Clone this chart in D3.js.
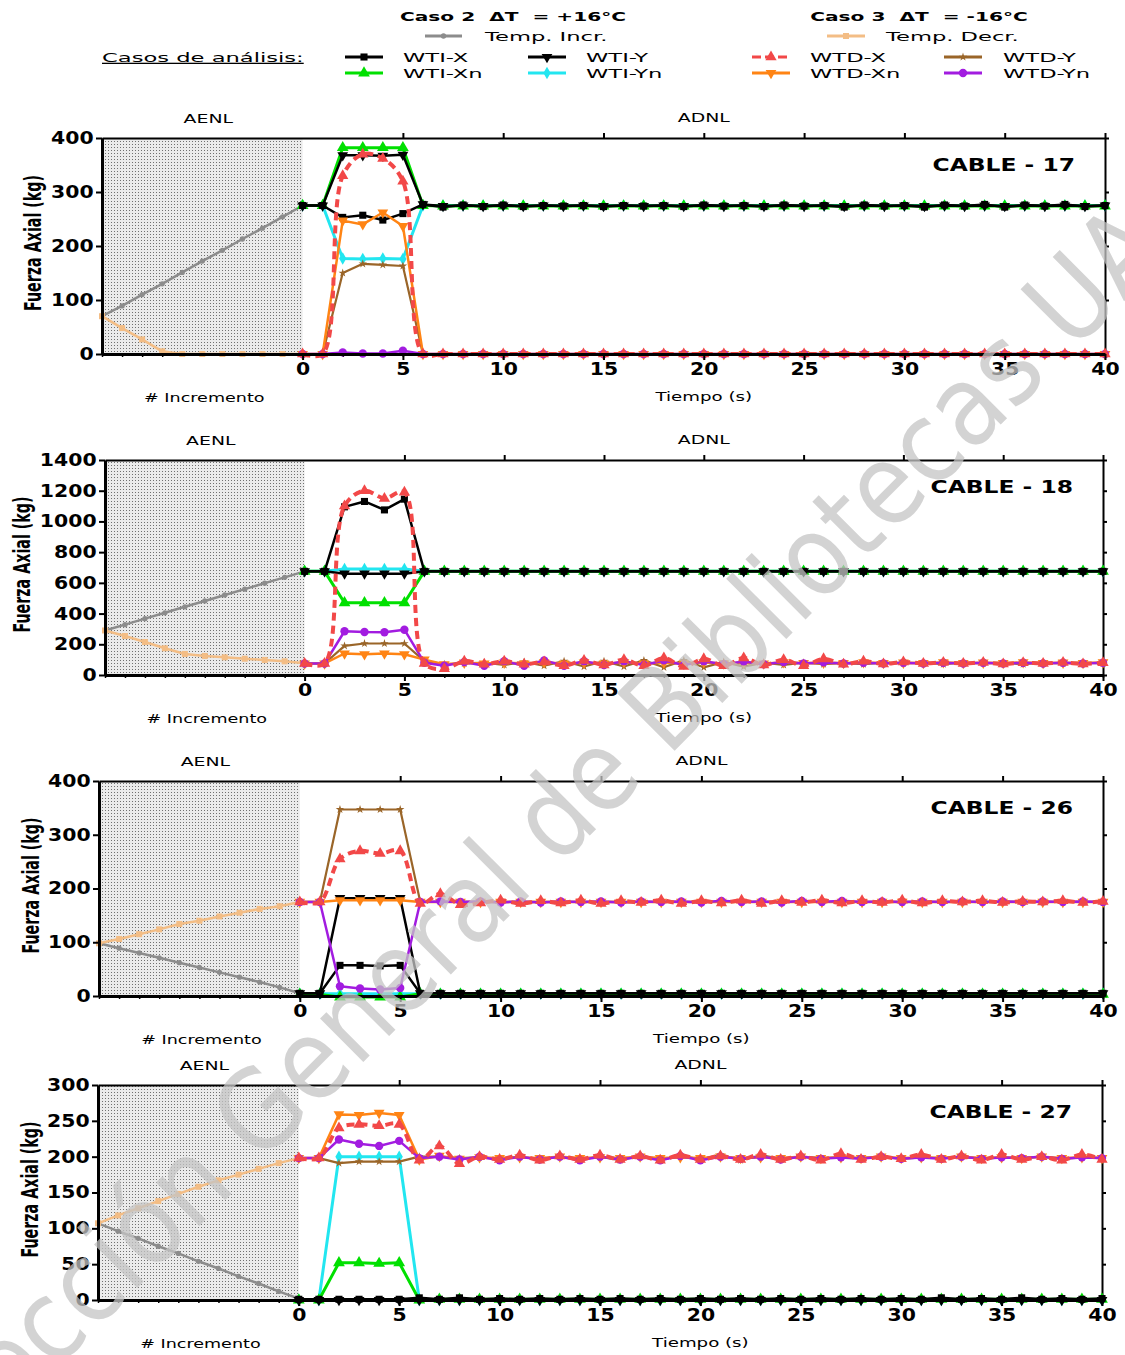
<!DOCTYPE html>
<html>
<head>
<meta charset="utf-8">
<style>
html, body { margin: 0; padding: 0; background: #fff; }
text { font-family: "DejaVu Sans", Verdana, sans-serif; }
</style>
<script src="https://cdn.jsdelivr.net/npm/d3@7"></script>
</head>
<body>
<script>
// ---------- datos ----------
var casos = ["WTI-X", "WTI-Y", "WTI-Xn", "WTI-Yn", "WTD-X", "WTD-Y", "WTD-Xn", "WTD-Yn"];
var tiempo = d3.range(0, 41);        // Tiempo (s)
var incremento = d3.range(-10, 1);   // # Incremento (zona AENL)
var ticksTiempo = [0, 5, 10, 15, 20, 25, 30, 35, 40];

// CABLE - 17
var yTicks17 = [0, 100, 200, 300, 400];
var incr17 = [70, 89, 110, 130, 151, 172, 192, 213, 233, 254, 275];
var decr17 = [70, 48, 27, 5, 0, 0, 0, 0, 0, 0, 0];
var wtiX17 = [275,275,253,257,248,260,277,
  272,276,273,276,273,275,274,275,273,275,
  274,275,273,276,274,275,273,276,274,275,
  272,276,274,275,272,276,274,277,272,276,
  274,277,273,275];
var wtiY17 = [275,275,368,368,367,369,277,
  274,275,274,275,274,275,274,275,274,275,
  274,275,274,275,274,275,274,275,274,275,
  274,275,274,275,274,275,274,275,274,275,
  274,275,274,275];
var wtiXn17 = [275,275,382,382,382,382,275,
  274,274,274,274,274,274,274,274,274,274,
  274,274,274,274,274,274,274,274,274,274,
  274,274,274,274,274,274,274,274,274,274,
  274,274,274,274];
var wtiYn17 = [275,275,177,176,177,176,275,
  275,275,275,275,275,275,275,275,275,275,
  275,275,275,275,275,275,275,275,275,275,
  275,275,275,275,275,275,275,275,275,275,
  275,275,275,275];
var wtdX17 = [0,0,330,370,362,320,0,
  0,0,0,0,0,0,0,0,0,0,
  0,0,0,0,0,0,0,0,0,0,
  0,0,0,0,0,0,0,0,0,0,
  0,0,0,0];
var wtdY17 = [0,0,150,167,165,163,0,
  0,0,0,0,0,0,0,0,0,0,
  0,0,0,0,0,0,0,0,0,0,
  0,0,0,0,0,0,0,0,0,0,
  0,0,0,0];
var wtdXn17 = [0,0,247,240,262,237,0,
  0,0,0,0,0,0,0,0,0,0,
  0,0,0,0,0,0,0,0,0,0,
  0,0,0,0,0,0,0,0,0,0,
  0,0,0,0];
var wtdYn17 = [0,0,3,1,1,6,0,
  0,0,0,0,0,0,0,0,0,0,
  0,0,0,0,0,0,0,0,0,0,
  0,0,0,0,0,0,0,0,0,0,
  0,0,0,0];

// CABLE - 18
var yTicks18 = [0, 200, 400, 600, 800, 1000, 1200, 1400];
var incr18 = [290, 328, 367, 405, 444, 482, 521, 559, 598, 636, 675];
var decr18 = [290, 254, 215, 174, 137, 124, 115, 106, 98, 89, 76];
var wtiX18 = [675,675,1095,1130,1075,1145,675,
  675,675,675,675,675,675,675,675,675,675,
  675,675,675,675,675,675,675,675,675,675,
  675,675,675,675,675,675,675,675,675,675,
  675,675,675,675];
var wtiY18 = [675,675,660,660,660,660,675,
  675,675,675,675,675,675,675,675,675,675,
  675,675,675,675,675,675,675,675,675,675,
  675,675,675,675,675,675,675,675,675,675,
  675,675,675,675];
var wtiXn18 = [675,675,470,470,470,470,675,
  675,675,675,675,675,675,675,675,675,675,
  675,675,675,675,675,675,675,675,675,675,
  675,675,675,675,675,675,675,675,675,675,
  675,675,675,675];
var wtiYn18 = [675,675,690,690,690,690,675,
  675,675,675,675,675,675,675,675,675,675,
  675,675,675,675,675,675,675,675,675,675,
  675,675,675,675,675,675,675,675,675,675,
  675,675,675,675];
var wtdX18 = [75,75,1100,1200,1150,1190,75,
  40,90,70,90,70,85,60,95,65,100,
  60,110,55,105,60,110,65,100,60,105,
  70,90,72,85,75,82,75,82,72,80,
  75,82,72,80];
var wtdY18 = [75,75,190,205,205,205,90,
  70,75,80,65,85,60,90,55,90,55,
  95,50,95,50,85,55,80,65,80,70,
  78,70,80,75,80,70,80,75,80,70,
  80,75,80,75];
var wtdXn18 = [75,75,140,135,140,135,100,
  70,80,75,80,75,82,75,80,75,82,
  75,80,75,82,75,80,75,82,78,80,
  78,82,78,80,78,82,78,80,78,82,
  78,80,78,82];
var wtdYn18 = [75,75,285,280,278,295,80,
  60,85,60,90,60,95,60,90,65,90,
  65,95,65,90,70,88,70,85,75,82,
  75,80,75,80,75,80,75,80,75,80,
  75,80,75,80];

// CABLE - 26
var yTicks26 = [0, 100, 200, 300, 400];
var incr26 = [98, 89, 80, 71, 62, 53, 44, 35, 26, 16, 5];
var decr26 = [98, 106, 115, 124, 134, 140, 148, 155, 162, 167, 175];
var wtiX26 = [5,5,57,57,56,57,5,
  5,5,5,5,5,5,5,5,5,5,
  5,5,5,5,5,5,5,5,5,5,
  5,5,5,5,5,5,5,5,5,5,
  5,5,5,5];
var wtiY26 = [5,5,182,182,182,182,5,
  5,5,5,5,5,5,5,5,5,5,
  5,5,5,5,5,5,5,5,5,5,
  5,5,5,5,5,5,5,5,5,5,
  5,5,5,5];
var wtiXn26 = [3,3,-2,-2,-2,-2,4,
  3,3,3,3,3,3,3,3,3,3,
  3,3,3,3,3,3,3,3,3,3,
  3,3,3,3,3,3,3,3,3,3,
  3,3,3,3];
var wtiYn26 = [4,4,4,4,4,4,4,
  4,4,4,4,4,4,4,4,4,4,
  4,4,4,4,4,4,4,4,4,4,
  4,4,4,4,4,4,4,4,4,4,
  4,4,4,4];
var wtdX26 = [175,175,255,270,265,270,172,
  190,170,173,178,172,177,173,178,172,177,
  174,178,172,177,173,178,172,177,174,178,
  173,177,174,178,173,177,175,177,174,176,
  175,177,174,176];
var wtdY26 = [175,175,347,347,347,347,175,
  175,175,175,175,175,175,175,175,175,175,
  175,175,175,175,175,175,175,175,175,175,
  175,175,175,175,175,175,175,175,175,175,
  175,175,175,175];
var wtdXn26 = [175,175,178,178,178,178,175,
  175,175,175,175,175,175,175,175,175,175,
  175,175,175,175,175,175,175,175,175,175,
  175,175,175,175,175,175,175,175,175,175,
  175,175,175,175];
var wtdYn26 = [175,175,18,14,12,15,175,
  176,175,176,174,176,174,176,175,176,174,
  176,175,176,174,177,175,176,174,177,175,
  177,175,176,175,176,175,176,175,176,175,
  176,175,176,175];

// CABLE - 27
var yTicks27 = [0, 50, 100, 150, 200, 250, 300];
var incr27 = [107, 96, 86, 75, 65, 54, 44, 33, 23, 12, 2];
var decr27 = [107, 118, 128, 138, 148, 158, 167, 175, 183, 191, 198];
var wtiX27 = [1,1,1,1,1,1,3,
  1,3,1,2,1,2,1,2,1,2,
  1,2,1,2,1,2,1,2,1,2,
  1,2,1,2,1,3,1,2,1,3,
  1,2,1,2];
var wtiY27 = [0,0,0,0,0,0,0,
  0,0,0,0,0,0,0,0,0,0,
  0,0,0,0,0,0,0,0,0,0,
  0,0,0,0,0,0,0,0,0,0,
  0,0,0,0];
var wtiXn27 = [0,0,52,52,51,52,0,
  1,1,1,1,1,1,1,1,1,1,
  1,1,1,1,1,1,1,1,1,1,
  1,1,1,1,1,1,1,1,1,1,
  1,1,1,1];
var wtiYn27 = [0,0,200,200,200,200,0,
  0,0,0,0,0,0,0,0,0,0,
  0,0,0,0,0,0,0,0,0,0,
  0,0,0,0,0,0,0,0,0,0,
  0,0,0,0];
var wtdX27 = [198,198,240,245,243,245,195,
  215,190,200,196,202,195,201,196,202,196,
  201,195,202,196,201,196,203,196,201,195,
  204,196,200,197,203,196,201,195,203,196,
  200,195,203,196];
var wtdY27 = [198,198,191,193,193,193,200,
  200,198,199,197,200,196,200,196,200,195,
  201,195,202,196,203,195,202,197,200,198,
  199,198,200,197,199,198,200,197,199,198,
  200,197,199,198];
var wtdXn27 = [198,198,259,258,261,258,196,
  201,197,199,198,199,198,200,198,199,198,
  200,198,199,198,200,198,199,198,200,198,
  199,198,200,198,199,198,200,198,199,198,
  200,198,199,198];
var wtdYn27 = [198,198,224,218,215,222,198,
  200,196,200,195,200,196,200,195,200,196,
  200,195,201,195,200,197,200,196,200,197,
  199,197,200,197,199,197,200,197,199,198,
  200,197,199,198];

// ---------- estilo y geometria ----------
var W = 1125, H = 1355;

var estilo = {
  "WTI-X":  {color: "#000000", sym: d3.symbolSquare,   size: 50, rot: 0,   ancho: 2.5},
  "WTI-Y":  {color: "#000000", sym: d3.symbolTriangle, size: 50, rot: 180, ancho: 2.5},
  "WTI-Xn": {color: "#00e000", sym: d3.symbolTriangle, size: 60, rot: 0,   ancho: 3},
  "WTI-Yn": {color: "#22e6f0", sym: d3.symbolDiamond,  size: 45, rot: 0,   ancho: 3},
  "WTD-X":  {color: "#f24848", sym: d3.symbolTriangle, size: 55, rot: 0,   ancho: 4, dash: "8,5"},
  "WTD-Y":  {color: "#9a6528", sym: d3.symbolStar,     size: 22, rot: 0,   ancho: 2.2},
  "WTD-Xn": {color: "#ff8414", sym: d3.symbolTriangle, size: 50, rot: 180, ancho: 2.5},
  "WTD-Yn": {color: "#a21ce0", sym: d3.symbolCircle,   size: 55, rot: 0,   ancho: 2.5}
};
var estiloIncr = {color: "#8c8c8c", sym: d3.symbolCircle, size: 22, rot: 0, ancho: 2.5};
var estiloDecr = {color: "#f3bd85", sym: d3.symbolSquare, size: 36, rot: 0, ancho: 2.5};
var ordenDibujo = ["WTI-Yn", "WTI-Xn", "WTI-Y", "WTI-X", "WTD-Y", "WTD-Xn", "WTD-Yn", "WTD-X"];

var paneles = [
  {cable: "CABLE - 17", ymax: 400, yTicks: yTicks17, incr: incr17, decr: decr17,
   series: [wtiX17, wtiY17, wtiXn17, wtiYn17, wtdX17, wtdY17, wtdXn17, wtdYn17],
   caja: {left: 102, right: 1105, top: 138, bottom: 354, titulo: 41}},
  {cable: "CABLE - 18", ymax: 1400, yTicks: yTicks18, incr: incr18, decr: decr18,
   series: [wtiX18, wtiY18, wtiXn18, wtiYn18, wtdX18, wtdY18, wtdXn18, wtdYn18],
   caja: {left: 105, right: 1103, top: 460, bottom: 675, titulo: 30}},
  {cable: "CABLE - 26", ymax: 400, yTicks: yTicks26, incr: incr26, decr: decr26,
   series: [wtiX26, wtiY26, wtiXn26, wtiYn26, wtdX26, wtdY26, wtdXn26, wtdYn26],
   caja: {left: 99, right: 1103, top: 781, bottom: 996, titulo: 39}},
  {cable: "CABLE - 27", ymax: 300, yTicks: yTicks27, incr: incr27, decr: decr27,
   series: [wtiX27, wtiY27, wtiXn27, wtiYn27, wtdX27, wtdY27, wtdXn27, wtdYn27],
   caja: {left: 98, right: 1102, top: 1085, bottom: 1300, titulo: 38}}
];

var svg = d3.select("body").append("svg")
  .attr("width", W).attr("height", H)
  .style("display", "block");

var defs = svg.append("defs");
var pat = defs.append("pattern").attr("id", "puntos")
  .attr("width", 3).attr("height", 3).attr("patternUnits", "userSpaceOnUse");
pat.append("rect").attr("width", 3).attr("height", 3).attr("fill", "#ebebeb");
pat.append("rect").attr("width", 1).attr("height", 1).attr("fill", "#707070");

// texto ensanchado (la figura original esta estirada en horizontal)
var texto = function(g, x, y, s, k, size, weight, anchor) {
  return g.append("text")
    .attr("transform", "translate(" + x + "," + y + ") scale(" + k + ",1)")
    .attr("font-size", size)
    .attr("font-weight", weight || "normal")
    .attr("text-anchor", anchor || "start")
    .attr("fill", "#000")
    .style("white-space", "pre")
    .text(s);
};

var marcador = function(g, st, px, py) {
  g.append("path")
    .attr("d", d3.symbol().type(st.sym).size(st.size)())
    .attr("transform", "translate(" + px + "," + py + ") rotate(" + st.rot + ")")
    .attr("fill", st.color);
};

var dibujarSerie = function(g, xs, vals, st, x, y) {
  var pts = xs.map(function(t, i) { return [t, vals[i]]; });
  var linea = d3.line()
    .x(function(d) { return x(d[0]); })
    .y(function(d) { return y(d[1]); });
  if (st.dash) linea.curve(d3.curveCatmullRom.alpha(0.5));
  g.append("path").datum(pts)
    .attr("d", linea)
    .attr("fill", "none")
    .attr("stroke", st.color)
    .attr("stroke-width", st.ancho)
    .attr("stroke-dasharray", st.dash || null)
    .attr("stroke-linejoin", "round");
  g.selectAll(null).data(pts).enter().append("path")
    .attr("d", d3.symbol().type(st.sym).size(st.size))
    .attr("transform", function(d) {
      return "translate(" + x(d[0]) + "," + y(d[1]) + ") rotate(" + st.rot + ")";
    })
    .attr("fill", st.color);
};

var dibujarPanel = function(p) {
  var c = p.caja;
  var x = d3.scaleLinear().domain([-10, 40]).range([c.left, c.right]);
  var y = d3.scaleLinear().domain([0, p.ymax]).range([c.bottom, c.top]);
  var g = svg.append("g");

  // zona AENL sombreada
  g.append("rect")
    .attr("x", x(-10)).attr("y", y(p.ymax))
    .attr("width", x(0) - x(-10)).attr("height", y(0) - y(p.ymax))
    .attr("fill", "url(#puntos)");

  // marco superior y derecho
  g.append("g").attr("transform", "translate(0," + c.top + ")")
    .call(d3.axisTop(x).tickValues(ticksTiempo.slice(1)).tickFormat("").tickSize(5).tickSizeOuter(0))
    .call(function(a) { a.selectAll("path, line").attr("stroke-width", 2); });
  g.append("g").attr("transform", "translate(" + c.right + ",0)")
    .call(d3.axisRight(y).tickValues(p.yTicks).tickFormat("").tickSize(4).tickSizeOuter(0))
    .call(function(a) { a.selectAll("path, line").attr("stroke-width", 2); });

  // ticks menores abajo
  g.append("g").attr("transform", "translate(0," + c.bottom + ")")
    .call(d3.axisBottom(x).tickValues(d3.range(-10, 41)).tickFormat("").tickSize(3).tickSizeOuter(0))
    .call(function(a) { a.select(".domain").remove(); a.selectAll("line").attr("stroke-width", 1.5); });

  // series
  dibujarSerie(g, incremento, p.incr, estiloIncr, x, y);
  dibujarSerie(g, incremento, p.decr, estiloDecr, x, y);
  ordenDibujo.forEach(function(nombre) {
    dibujarSerie(g, tiempo, p.series[casos.indexOf(nombre)], estilo[nombre], x, y);
  });

  // ejes principales
  var ejeY = g.append("g").attr("transform", "translate(" + c.left + ",0)")
    .call(d3.axisLeft(y).tickValues(p.yTicks).tickFormat(d3.format("d"))
      .tickSize(6).tickSizeOuter(0).tickPadding(1));
  ejeY.select(".domain").attr("stroke-width", 3);
  ejeY.selectAll("line").attr("stroke-width", 2);
  ejeY.selectAll("text").attr("font-size", 17).attr("font-weight", "bold")
    .attr("font-family", "DejaVu Sans, sans-serif").attr("fill", "#000")
    .attr("transform", "scale(1.2,1)");

  var ejeX = g.append("g").attr("transform", "translate(0," + c.bottom + ")")
    .call(d3.axisBottom(x).tickValues(ticksTiempo).tickFormat(d3.format("d"))
      .tickSize(6).tickSizeOuter(0).tickPadding(3));
  ejeX.select(".domain").attr("stroke-width", 3);
  ejeX.selectAll("line").attr("stroke-width", 2);
  ejeX.selectAll("text").attr("font-size", 17).attr("font-weight", "bold")
    .attr("font-family", "DejaVu Sans, sans-serif").attr("fill", "#000")
    .attr("transform", "scale(1.2,1)");

  // rotulos
  texto(g, x(-4.7), c.top - 15, "AENL", 1.45, 13, "normal", "middle");
  texto(g, x(20), c.top - 16, "ADNL", 1.45, 13, "normal", "middle");
  texto(g, x(-4.9), c.bottom + 48, "# Incremento", 1.35, 13, "normal", "middle");
  texto(g, x(20), c.bottom + 47, "Tiempo (s)", 1.4, 13, "normal", "middle");
  texto(g, c.right - 30, c.top + 33, p.cable, 1.3, 18, "bold", "end");

  g.append("text")
    .attr("transform", "translate(" + c.titulo + "," + ((c.top + c.bottom) / 2 - 3) + ") scale(1.25,1) rotate(-90)")
    .attr("text-anchor", "middle")
    .attr("font-family", "'Liberation Sans Narrow', 'DejaVu Sans Condensed', 'Arial Narrow', sans-serif")
    .attr("font-stretch", "condensed")
    .attr("font-weight", "bold")
    .attr("font-size", 19)
    .attr("textLength", 136)
    .attr("lengthAdjust", "spacingAndGlyphs")
    .text("Fuerza Axial (kg)");
};

paneles.forEach(dibujarPanel);

// ---------- leyenda ----------
var ley = svg.append("g");
texto(ley, 513, 21, "Caso 2  \u0394T  = +16\u00B0C", 1.55, 13, "bold", "middle");
texto(ley, 919, 21, "Caso 3  \u0394T  = -16\u00B0C", 1.55, 13, "bold", "middle");

var muestra = function(x1, x2, yy, st) {
  ley.append("line").attr("x1", x1).attr("x2", x2).attr("y1", yy).attr("y2", yy)
    .attr("stroke", st.color).attr("stroke-width", 3)
    .attr("stroke-dasharray", st.dash ? "9,4" : null);
  marcador(ley, st, (x1 + x2) / 2, yy);
};
muestra(425, 462, 36, estiloIncr);
texto(ley, 485, 41, "Temp. Incr.", 1.74, 13);
muestra(827, 865, 36, estiloDecr);
texto(ley, 886, 41, "Temp. Decr.", 1.74, 13);

texto(ley, 102, 62, "Casos de an\u00E1lisis:", 1.74, 13)
  .attr("text-decoration", "underline");

var colX = [[345, 383, 403], [528, 566, 586], [752, 790, 810], [944, 982, 1003]];
var filaY = [57, 73];
var posLey = {
  "WTI-X": [0, 0], "WTI-Y": [1, 0], "WTD-X": [2, 0], "WTD-Y": [3, 0],
  "WTI-Xn": [0, 1], "WTI-Yn": [1, 1], "WTD-Xn": [2, 1], "WTD-Yn": [3, 1]
};
casos.forEach(function(nombre) {
  var cx = colX[posLey[nombre][0]], yy = filaY[posLey[nombre][1]];
  muestra(cx[0], cx[1], yy, estilo[nombre]);
  texto(ley, cx[2], yy + 5, nombre, 1.74, 13);
});

// ---------- marca de agua ----------
svg.append("text")
  .attr("transform", "translate(540,830) rotate(-45)")
  .attr("text-anchor", "middle")
  .attr("dominant-baseline", "central")
  .attr("font-family", "'Liberation Sans', Arial, sans-serif")
  .attr("font-size", 112)
  .attr("textLength", 1860)
  .attr("lengthAdjust", "spacingAndGlyphs")
  .attr("fill", "#c4c4c4")
  .attr("fill-opacity", 0.75)
  .text("Direcci\u00F3n General de Bibliotecas UAQ");
</script>
</body>
</html>
